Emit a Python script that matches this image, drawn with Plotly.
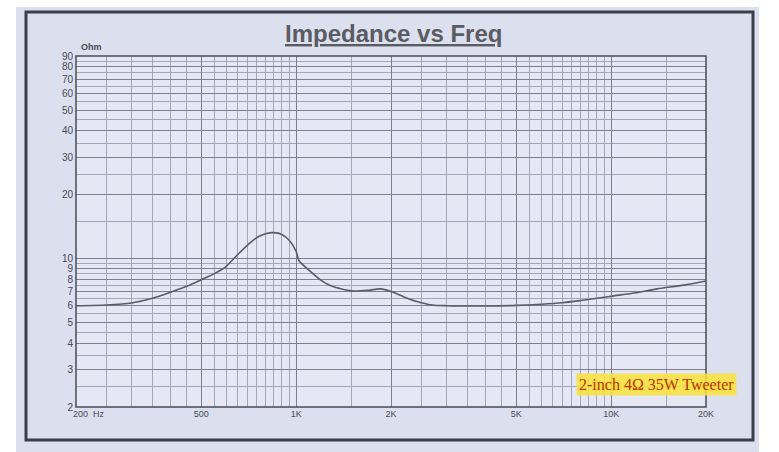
import numpy as np
import plotly.graph_objects as go

# Data
freq_hz = [200, 250, 300, 350, 400, 450, 500, 550, 600, 650, 715, 760, 800, 850, 900,
           950, 1000, 1020, 1100, 1200, 1300, 1500, 1700, 1850, 2000, 2200, 2400, 2700,
           3000, 4000, 5000, 6000, 7000, 8000, 9000, 10000, 12000, 14000, 17000, 20000]
impedance_ohm = [6.0, 6.05, 6.18, 6.5, 6.95, 7.4, 7.95, 8.5, 9.2, 10.4, 11.9, 12.7, 13.1, 13.25, 13.0,
                 12.2, 10.8, 9.8, 8.8, 7.9, 7.4, 7.05, 7.1, 7.2, 7.0, 6.6, 6.3, 6.05,
                 6.0, 5.98, 6.02, 6.1, 6.2, 6.35, 6.5, 6.65, 6.9, 7.2, 7.5, 7.85]

x_tick_vals = [200, 500, 1000, 2000, 5000, 10000, 20000]
x_tick_text = ["", "500", "1K", "2K", "5K", "10K", "20K"]
y_tick_vals = [2, 3, 4, 5, 6, 7, 8, 9, 10, 20, 30, 40, 50, 60, 70, 80, 90]
y_tick_text = [str(v) for v in y_tick_vals]

title_text = "Impedance vs Freq"
badge_text = "2-inch 4Ω 35W Tweeter"

# grid sets
x_minor = []
for dec in [100, 1000, 10000]:
    for m in np.arange(1.0, 10.0, 0.5):
        v = round(m * dec)
        if 200 <= v <= 20000 and v not in x_tick_vals:
            x_minor.append(v)
y_minor = []
for dec in [1, 10]:
    for m in np.arange(1.0, 10.0, 0.5):
        v = round(m * dec, 2)
        if 2 <= v <= 90 and v not in y_tick_vals:
            y_minor.append(v)

L, R, T, B = 76, 706, 56, 407
W, H = 779, 452
def px(xp):
    return (xp - L) / (R - L)
def py(yp):
    return (B - yp) / (B - T)

fig = go.Figure()
fig.add_trace(go.Scatter(x=freq_hz, y=impedance_ohm, mode="lines",
                         line=dict(color="#5a5c66", width=1.6, shape="spline", smoothing=0.7),
                         hoverinfo="skip", showlegend=False))

shapes = [
    dict(type="rect", xref="paper", yref="paper", x0=px(16), x1=px(759), y0=py(452), y1=py(7),
         fillcolor="#dcdfee", line=dict(width=0), layer="below"),
    dict(type="rect", xref="paper", yref="paper", x0=px(26), x1=px(753), y0=py(440), y1=py(12),
         fillcolor="rgba(0,0,0,0)", line=dict(color="#3c3f4a", width=3), layer="below"),
    dict(type="rect", xref="paper", yref="paper", x0=0, x1=1, y0=0, y1=1,
         fillcolor="#e5e7f4", line=dict(width=0), layer="below"),
    dict(type="rect", xref="paper", yref="paper", x0=0, x1=1, y0=0, y1=1,
         fillcolor="rgba(0,0,0,0)", line=dict(color="#4a4c56", width=1.5), layer="above"),
]

fig.update_layout(
    width=W, height=H,
    margin=dict(l=L, r=W - R, t=T, b=H - B),
    paper_bgcolor="#ffffff",
    plot_bgcolor="rgba(0,0,0,0)",
    shapes=shapes,
    showlegend=False,
    font=dict(family="Liberation Sans, Arial, sans-serif", color="#4a4a52"),
)

fig.update_xaxes(type="log", range=[np.log10(200), np.log10(20000)],
                 tickmode="array", tickvals=x_tick_vals, ticktext=x_tick_text,
                 showgrid=True, gridcolor="#7c7f8e", gridwidth=1.2,
                 ticks="", tickfont=dict(size=9, color="#4a4a55"),
                 zeroline=False, showline=False,
                 minor=dict(tickmode="array", tickvals=x_minor, showgrid=True,
                            gridcolor="#a4a7b8", gridwidth=1, ticks=""))
fig.update_yaxes(type="log", range=[np.log10(2), np.log10(90)],
                 tickmode="array", tickvals=y_tick_vals, ticktext=y_tick_text,
                 showgrid=True, gridcolor="#7c7f8e", gridwidth=1.2,
                 ticks="", tickfont=dict(size=10, color="#4a4a55"),
                 ticklabelstandoff=2,
                 zeroline=False, showline=False,
                 minor=dict(tickmode="array", tickvals=y_minor, showgrid=True,
                            gridcolor="#a4a7b8", gridwidth=1, ticks=""))

fig.add_annotation(xref="paper", yref="paper", x=px(393), y=py(34),
                   text="<b><u>" + title_text + "</u></b>", showarrow=False,
                   font=dict(size=24, color="#5a5b63", family="Liberation Sans, Arial, sans-serif"),
                   xanchor="center", yanchor="middle")
fig.add_annotation(xref="paper", yref="paper", x=px(79), y=py(47),
                   text="<b>Ohm</b>", showarrow=False, xanchor="left", yanchor="middle",
                   font=dict(size=9, color="#4a4a55"))
fig.add_annotation(xref="paper", yref="paper", x=px(71), y=py(414),
                   text="200  Hz", showarrow=False, xanchor="left", yanchor="middle",
                   font=dict(size=9, color="#4a4a55"))
fig.add_annotation(xref="paper", yref="paper", x=px(656), y=py(384),
                   text=badge_text, showarrow=False, xanchor="center", yanchor="middle",
                   bgcolor="rgba(250,226,60,0.85)", borderpad=2,
                   font=dict(size=16, color="#b3321c",
                             family="Liberation Serif, serif",
                             shadow="0 0 3px #ffe600"))

fig.write_html("out.html")
